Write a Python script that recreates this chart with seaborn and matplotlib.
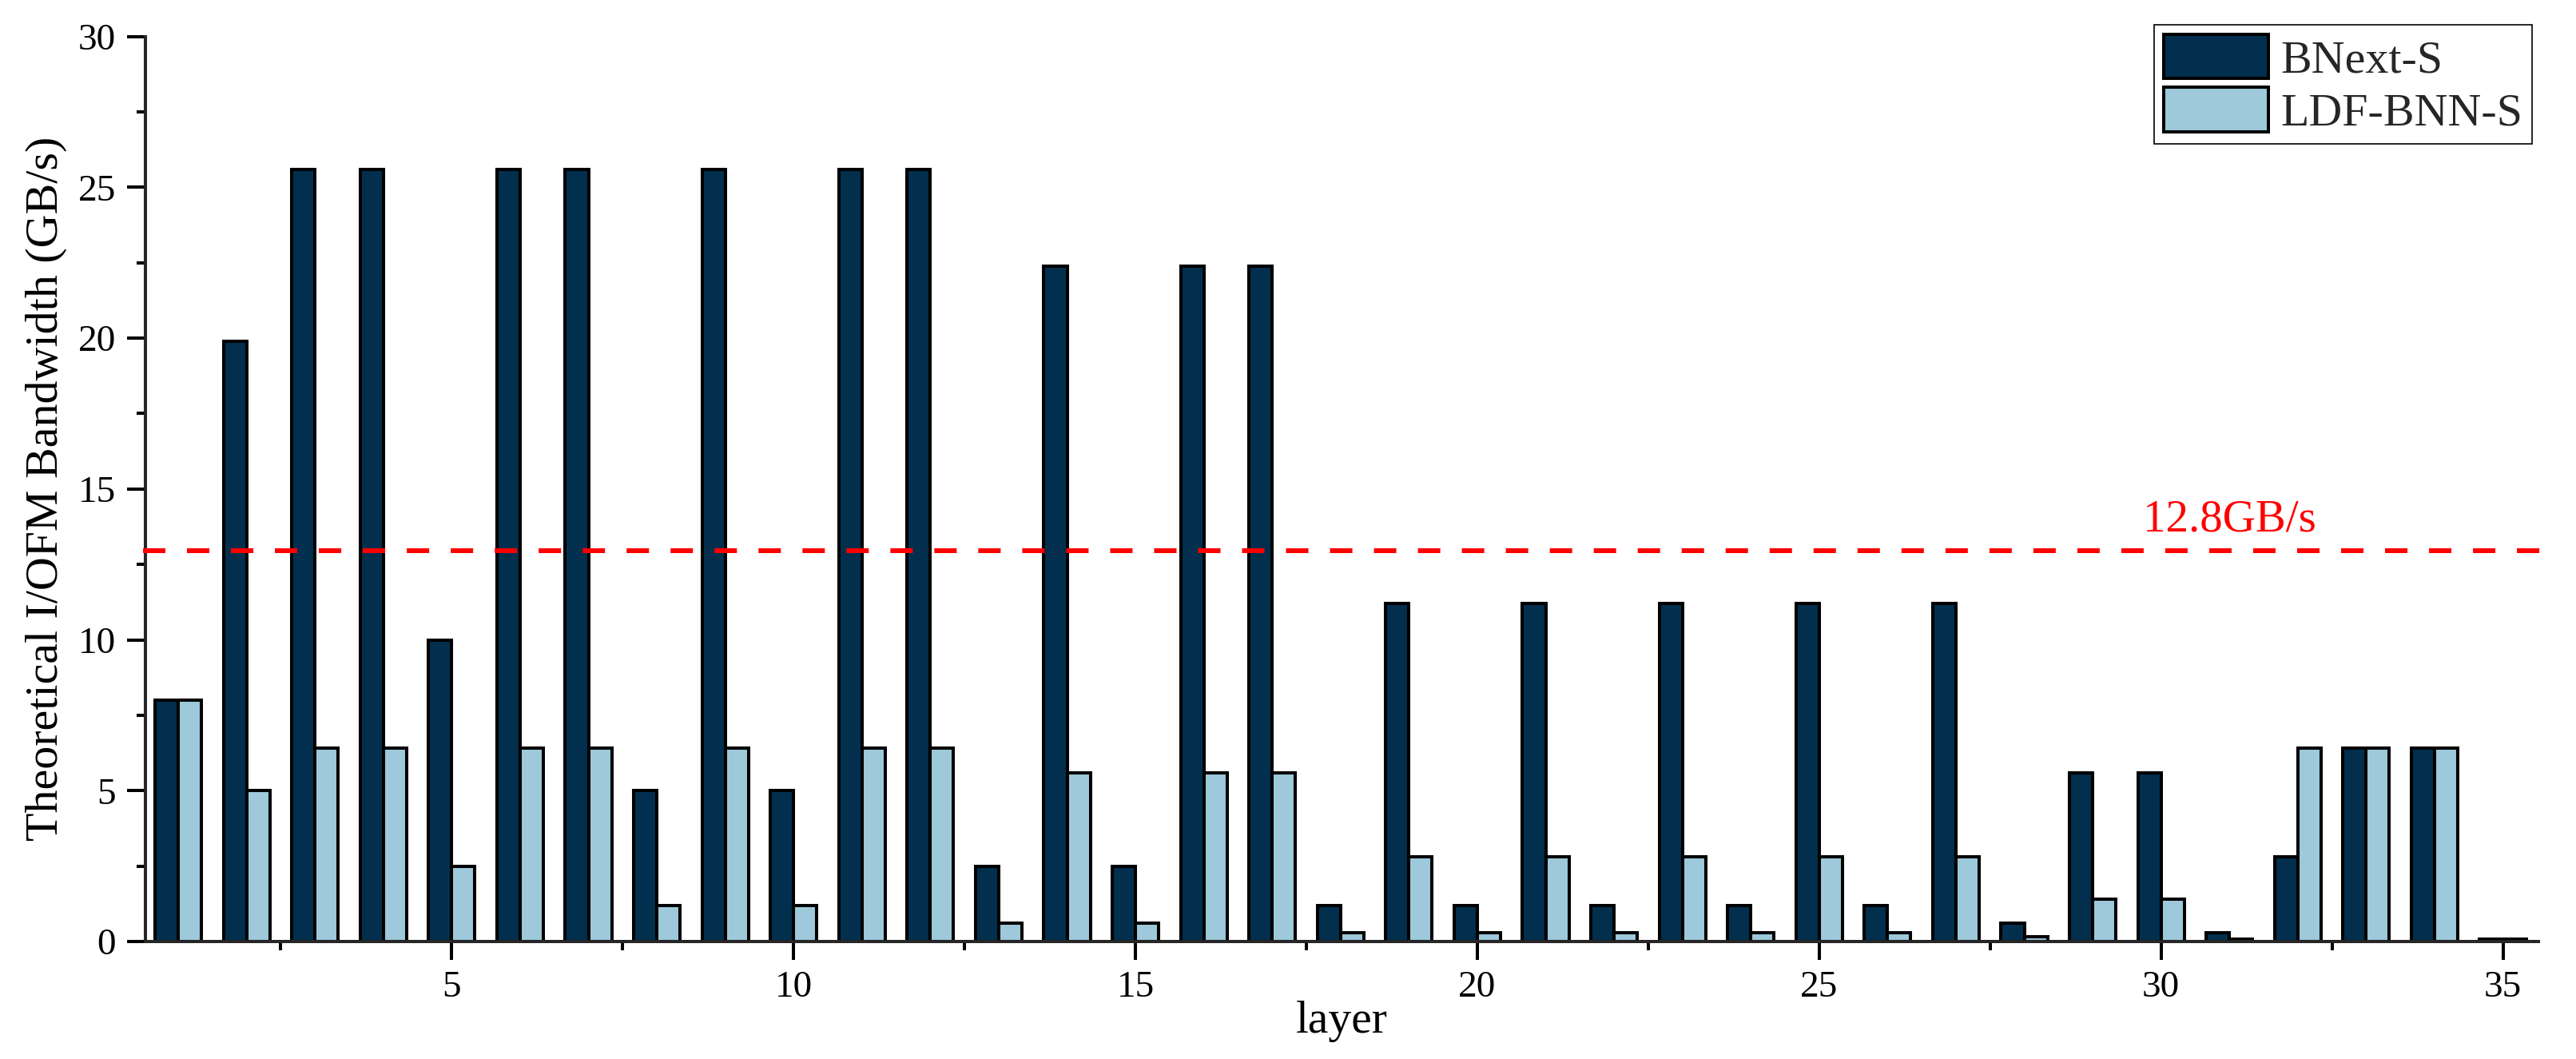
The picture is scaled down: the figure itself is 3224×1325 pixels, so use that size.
import numpy as np
import pandas as pd
import matplotlib
matplotlib.use("Agg")
import matplotlib.pyplot as plt
from matplotlib.ticker import MultipleLocator
from matplotlib.patches import Patch
import seaborn as sns

# ---------------- data ----------------
layers = list(range(1, 36))
bnext_s = [8.0, 19.9, 25.6, 25.6, 10.0, 25.6, 25.6, 5.0, 25.6, 5.0,
           25.6, 25.6, 2.5, 22.4, 2.5, 22.4, 22.4, 1.2, 11.2, 1.2,
           11.2, 1.2, 11.2, 1.2, 11.2, 1.2, 11.2, 0.6, 5.6, 5.6,
           0.3, 2.8, 6.4, 6.4, 0.075]
ldf_bnn_s = [8.0, 5.0, 6.4, 6.4, 2.5, 6.4, 6.4, 1.2, 6.4, 1.2,
             6.4, 6.4, 0.6, 5.6, 0.6, 5.6, 5.6, 0.3, 2.8, 0.3,
             2.8, 0.3, 2.8, 0.3, 2.8, 0.3, 2.8, 0.15, 1.4, 1.4,
             0.075, 6.4, 6.4, 6.4, 0.075]
series_names = ["BNext-S", "LDF-BNN-S"]
series_colors = ["#022F4E", "#9DC9DB"]
limit_value = 12.95
limit_label = "12.8GB/s"
x_label = "layer"
y_label = "Theoretical I/OFM Bandwidth (GB/s)"

df = pd.DataFrame({
    "layer": layers * 2,
    "value": bnext_s + ldf_bnn_s,
    "model": [series_names[0]] * len(layers) + [series_names[1]] * len(layers),
})

# ---------------- style ----------------
sns.set_style("ticks")
plt.rcParams["font.family"] = ["Liberation Serif", "DejaVu Serif"]
plt.rcParams["axes.linewidth"] = 1.45

W, H, DPI = 3224, 1325, 200
fig = plt.figure(figsize=(W / DPI, H / DPI), dpi=DPI)
ax = fig.add_axes([182 / W, 1 - 1178 / H, (3177 - 182) / W, (1178 - 45.7) / H])

sns.barplot(data=df, x="layer", y="value", hue="model", hue_order=series_names,
            palette=series_colors, native_scale=True, width=0.68, gap=0,
            edgecolor="black", linewidth=1.45, saturation=1, legend=False, ax=ax)

ax.set_xlim(0.52, 35.52)
ax.set_ylim(0, 30)
sns.despine(ax=ax)

ax.xaxis.set_major_locator(MultipleLocator(5))
ax.xaxis.set_minor_locator(MultipleLocator(2.5))
ax.yaxis.set_major_locator(MultipleLocator(5))
ax.yaxis.set_minor_locator(MultipleLocator(2.5))
ax.xaxis.set_major_formatter(matplotlib.ticker.FormatStrFormatter("%d"))
ax.yaxis.set_major_formatter(matplotlib.ticker.FormatStrFormatter("%d"))

ax.tick_params(axis="both", which="major", length=8.3, width=1.45, labelsize=17,
               direction="out", color="black", labelcolor="black")
ax.tick_params(axis="both", which="minor", length=4.0, width=1.45,
               direction="out", color="black")
ax.tick_params(axis="y", which="major", pad=5)
ax.tick_params(axis="x", which="major", pad=5)

ax.set_xlabel(x_label, fontsize=20.7, labelpad=-2, color="black")
ax.set_ylabel(y_label, fontsize=20.9, labelpad=5, color="black")

# threshold line
ax.plot([-0.001, 1.0067], [limit_value, limit_value], transform=ax.get_yaxis_transform(),
        color="#FF0000", linewidth=2.16, linestyle=(0, (4.67, 4.5)), clip_on=False, zorder=5)
ax.text(31.0, 13.6, limit_label, color="#FF0000", fontsize=20.5,
        ha="center", va="baseline")

handles = [Patch(facecolor=c, edgecolor="black", linewidth=1.45) for c in series_colors]
leg = fig.legend(handles, series_names, loc="upper right",
                 bbox_to_anchor=(3169 / W, 1 - 31 / H), bbox_transform=fig.transFigure,
                 fontsize=20.9, frameon=True, fancybox=False, framealpha=1,
                 edgecolor="black", borderpad=0.2, borderaxespad=0,
                 handlelength=2.26, handleheight=1.1, handletextpad=0.27,
                 labelspacing=0.12)
leg.get_frame().set_linewidth(0.6)

fig.savefig("out.png", dpi=DPI, facecolor="white")
